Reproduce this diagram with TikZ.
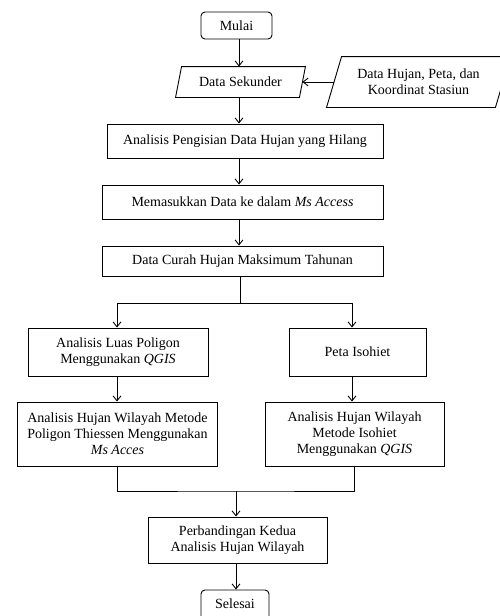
\documentclass[tikz,border=0pt]{standalone}
\usepackage{fontspec}
\setmainfont{Liberation Serif}
\usetikzlibrary{arrows.meta,calc}
\begin{document}
\begin{tikzpicture}[x=1pt,y=-1pt,
  line width=0.9pt,
  every node/.style={font=\fontsize{14}{16}\selectfont, align=center, inner sep=0pt},
  box/.style={draw, rectangle},
  term/.style={draw, rectangle, rounded corners=4pt},
  plain/.style={rectangle},
  arr/.style={-{Straight Barb[length=5pt,width=8pt]}}]
\useasboundingbox (0,0) rectangle (499,616);
\fill[white] (0,0) rectangle (499,616);

% nodes
\node[term, minimum width=71pt, minimum height=27pt] (mulai) at (236.5,25.5) {Mulai};
\node[plain, minimum width=129pt, minimum height=30pt] (ds) at (240.5,82) {Data Sekunder};
\node[plain, minimum width=183pt, minimum height=50pt] (dh) at (418.5,82) {Data Hujan, Peta, dan\\Koordinat Stasiun};
\node[box, minimum width=276pt, minimum height=34pt] (ap) at (245,141) {Analisis Pengisian Data Hujan yang Hilang};
\node[box, minimum width=281pt, minimum height=34pt] (mm) at (242.5,202) {Memasukkan Data ke dalam \textit{Ms Access}};
\node[box, minimum width=281pt, minimum height=30pt] (dc) at (242.5,261) {Data Curah Hujan Maksimum Tahunan};
\node[box, minimum width=180pt, minimum height=48pt] (lp) at (118,352) {Analisis Luas Poligon\\Menggunakan \textit{QGIS}};
\node[box, minimum width=137pt, minimum height=48pt] (pi) at (357.5,352) {Peta Isohiet};
\node[box, minimum width=200pt, minimum height=64pt] (ht) at (117.5,434) {Analisis Hujan Wilayah Metode\\Poligon Thiessen Menggunakan\\\textit{Ms Acces}};
\node[box, minimum width=179pt, minimum height=64pt] (hi) at (354.5,434) {Analisis Hujan Wilayah\\Metode Isohiet\\Menggunakan \textit{QGIS}};
\node[box, minimum width=179pt, minimum height=46pt] (pb) at (237.5,540) {Perbandingan Kedua\\Analisis Hujan Wilayah};
\node[term, minimum width=68pt, minimum height=30pt, text depth=0pt] (sl) at (235,605) {\raisebox{2pt}{Selesai}};

% parallelograms
\draw ([xshift=6pt]ds.north west) -- (ds.north east) -- ([xshift=-6pt]ds.south east) -- (ds.south west) -- cycle;
\draw ([xshift=15pt]dh.north west) -- (dh.north east) -- ([xshift=-15pt]dh.south east) -- (dh.south west) -- cycle;

% helper coordinates
\coordinate (ax) at (239,0);
\coordinate (split) at (240,303);
\coordinate (lb) at (117,0);
\coordinate (rb) at (352,0);
\coordinate (merge) at (236,491);

% connectors
\draw[arr] (mulai.south -| ax) -- (ds.north -| ax);
\draw[arr] ([xshift=7.5pt]dh.west) -- ([xshift=-3pt]ds.east);
\draw[arr] (ds.south -| ax) -- (ap.north -| ax);
\draw[arr] (ap.south -| ax) -- (mm.north -| ax);
\draw[arr] (mm.south -| ax) -- (dc.north -| ax);
\draw (dc.south -| split) -- (split);
\draw[arr] (split) -| (lp.north -| lb);
\draw[arr] (split) -| (pi.north -| rb);
\draw[arr] (lp.south -| lb) -- (ht.north -| lb);
\draw[arr] (pi.south -| rb) -- (hi.north -| rb);
\draw (ht.south) |- (merge) -| (hi.south);
\draw[arr] (merge) -- (pb.north -| merge);
\draw[arr] (pb.south -| merge) -- (sl.north -| merge);
\end{tikzpicture}
\end{document}
